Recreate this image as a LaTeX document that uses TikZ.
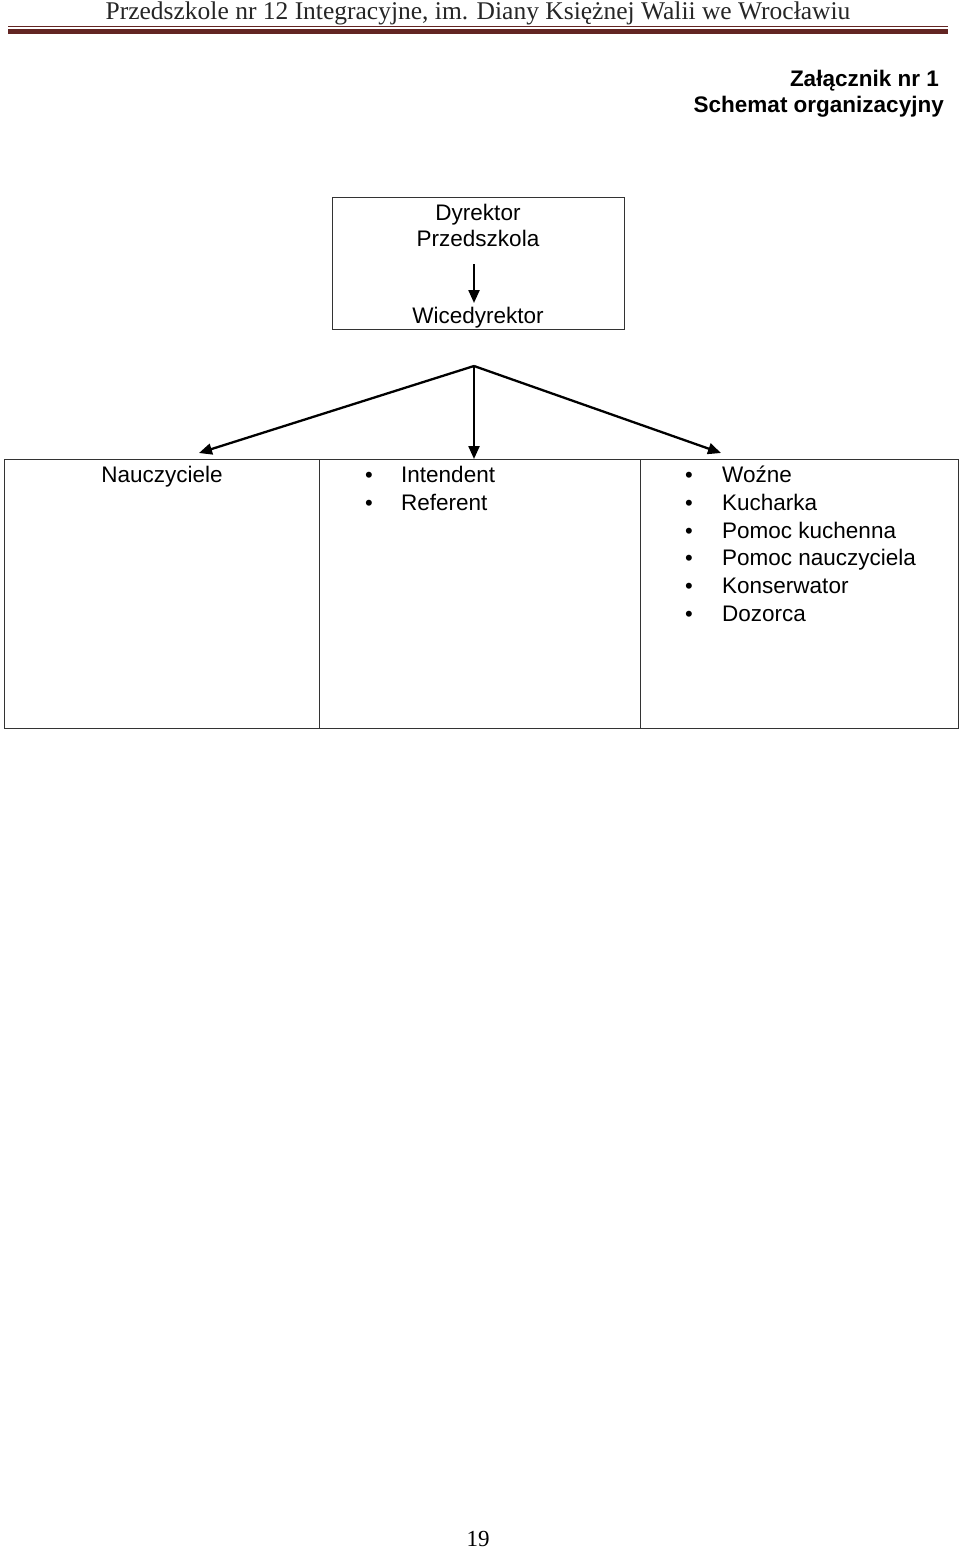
\documentclass[tikz,border=0pt]{standalone}
\usepackage{fontspec}
\setmainfont{Liberation Sans}
\newfontfamily\headfont{Liberation Serif}
\newfontfamily\pagefont{Liberation Serif}
\usetikzlibrary{arrows.meta}
\definecolor{maroon}{HTML}{632523}
\definecolor{boxline}{HTML}{333333}
\begin{document}
\begin{tikzpicture}[x=1pt,y=-1pt,
  lbl/.style={font=\fontsize{22.5}{27}\selectfont, inner sep=0pt, anchor=base},
  llbl/.style={lbl, anchor=base west},
  bul/.style={lbl, font=\fontsize{22}{27}\selectfont},
  ttl/.style={lbl, anchor=base east, font=\bfseries\fontsize{22.5}{27}\selectfont},
  box/.style={draw=boxline, line width=1.3pt, inner sep=0pt},
  arr/.style={-{Triangle[length=13pt,width=11pt]}, line width=2.3pt}]
\useasboundingbox (0,0) rectangle (960,1549);
\fill[white] (0,0) rectangle (960,1549);
% header
\node[anchor=base, inner sep=0pt, font=\headfont\fontsize{25.5}{30}\selectfont, text=black!85] (hdr) at (478,19.5) {Przedszkole nr 12 Integracyjne, im. Diany Księżnej Walii we Wrocławiu};
\draw[maroon, line width=1pt] (8,27) -- (948,27);
\draw[maroon, line width=4.5pt] (8,31.5) -- (948,31.5);
% title
\node[ttl] (zal) at (939,87) {Załącznik nr 1};
\node[ttl] (sch) at (944,113) {Schemat organizacyjny};
% top box
\node[box, anchor=north west, minimum width=292pt, minimum height=132pt] (dyr) at (332,197) {};
\node[lbl] (d1) at (478,220) {Dyrektor};
\node[lbl] (d2) at (478,246) {Przedszkola};
\node[lbl] (wic) at (478,323) {Wicedyrektor};
\coordinate (a1s) at (474,264);
\coordinate (a1e) at (474,303);
\draw[arr] (a1s) -- (a1e);
% bottom cells
\node[box, anchor=north west, minimum width=315pt, minimum height=269pt] (c1) at (4,459) {};
\node[box, anchor=north west, minimum width=321pt, minimum height=269pt] (c2) at (319,459) {};
\node[box, anchor=north west, minimum width=318pt, minimum height=269pt] (c3) at (640,459) {};
\coordinate (apex) at (474,366);
\coordinate (tl) at (199,453);
\coordinate (tr) at (721,453);
\draw[arr] (apex) -- (tl);
\draw[arr] (apex) -- (c2.north -| apex);
\draw[arr] (apex) -- (tr);
% texts
\node[lbl] (nau) at (162,482) {Nauczyciele};
\foreach \t [count=\i] in {Intendent, Referent}{
  \node[bul] (b2\i) at (369,482.7+27.8*\i-27.8) {•};
  \node[llbl] (t2\i) at (401,482.7+27.8*\i-27.8) {\t};
}
\foreach \t [count=\i] in {Woźne, Kucharka, Pomoc kuchenna, Pomoc nauczyciela, Konserwator, Dozorca}{
  \node[bul] (b3\i) at (689,482.7+27.7*\i-27.7) {•};
  \node[llbl] (t3\i) at (722,482.7+27.7*\i-27.7) {\t};
}
% page number
\node[anchor=base, inner sep=0pt, font=\pagefont\fontsize{23}{26}\selectfont] (pg) at (478,1546) {19};
\end{tikzpicture}
\end{document}
